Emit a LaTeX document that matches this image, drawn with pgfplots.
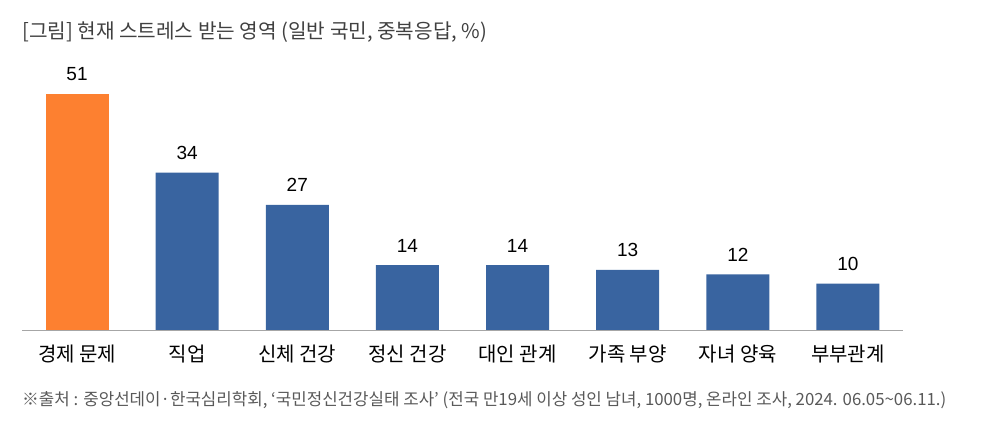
\documentclass[border=0pt]{standalone}
\usepackage{fontspec}
\setmainfont{Noto Sans CJK KR}
\newfontfamily\numfont{Liberation Sans}
\usepackage{pgfplots}
\pgfplotsset{compat=1.18}
\definecolor{barorange}{RGB}{253,128,48}
\definecolor{barblue}{RGB}{57,100,160}
\definecolor{titlegray}{RGB}{64,64,64}
\definecolor{notegray}{RGB}{89,89,89}
\begin{document}
\begin{tikzpicture}[x=1pt,y=1pt]
\useasboundingbox (0,0) rectangle (990,438);
\node[anchor=west, inner sep=0, text=titlegray, font=\fontsize{20.2}{22}\selectfont] at (22,406) {[그림] 현재 스트레스 받는 영역 (일반 국민, 중복응답, \%)};
\node[anchor=west, inner sep=0, text=notegray, font=\fontsize{16.8}{18}\selectfont] at (22,38) {※출처 : 중앙선데이·한국심리학회, ‘국민정신건강실태 조사’ (전국 만19세 이상 성인 남녀, 1000명, 온라인 조사, 2024. 06.05\textasciitilde06.11.)};
\begin{axis}[
    at={(22pt,108pt)}, anchor=south west,
    scale only axis,
    width=881pt, height=277.8pt,
    xmin=-0.5, xmax=7.5,
    ymin=0, ymax=60,
    axis x line=bottom,
    axis y line=none,
    x axis line style={draw=gray!70, line width=0.8pt, -},
    xtick={0,1,2,3,4,5,6,7},
    xticklabels={경제 문제, 직업, 신체 건강, 정신 건강, 대인 관계, 가족 부양, 자녀 양육, 부부관계},
    major tick length=0pt,
    xticklabel style={anchor=base, yshift=-32pt, inner sep=0pt, font=\fontsize{20}{22}\selectfont, text=black},
    ybar, bar width=63pt, bar shift=0pt,
    nodes near coords,
    /pgf/number format/assume math mode=true,
    every node near coord/.append style={anchor=base, yshift=13pt, inner sep=0pt, font=\numfont\fontsize{19}{21}\selectfont, text=black},
    clip=false,
]
\addplot[fill=barorange, draw=none] coordinates {(0,51)};
\addplot[fill=barblue, draw=none] coordinates {(1,34) (2,27) (3,14) (4,14) (5,13) (6,12) (7,10)};
\end{axis}
\end{tikzpicture}
\end{document}
